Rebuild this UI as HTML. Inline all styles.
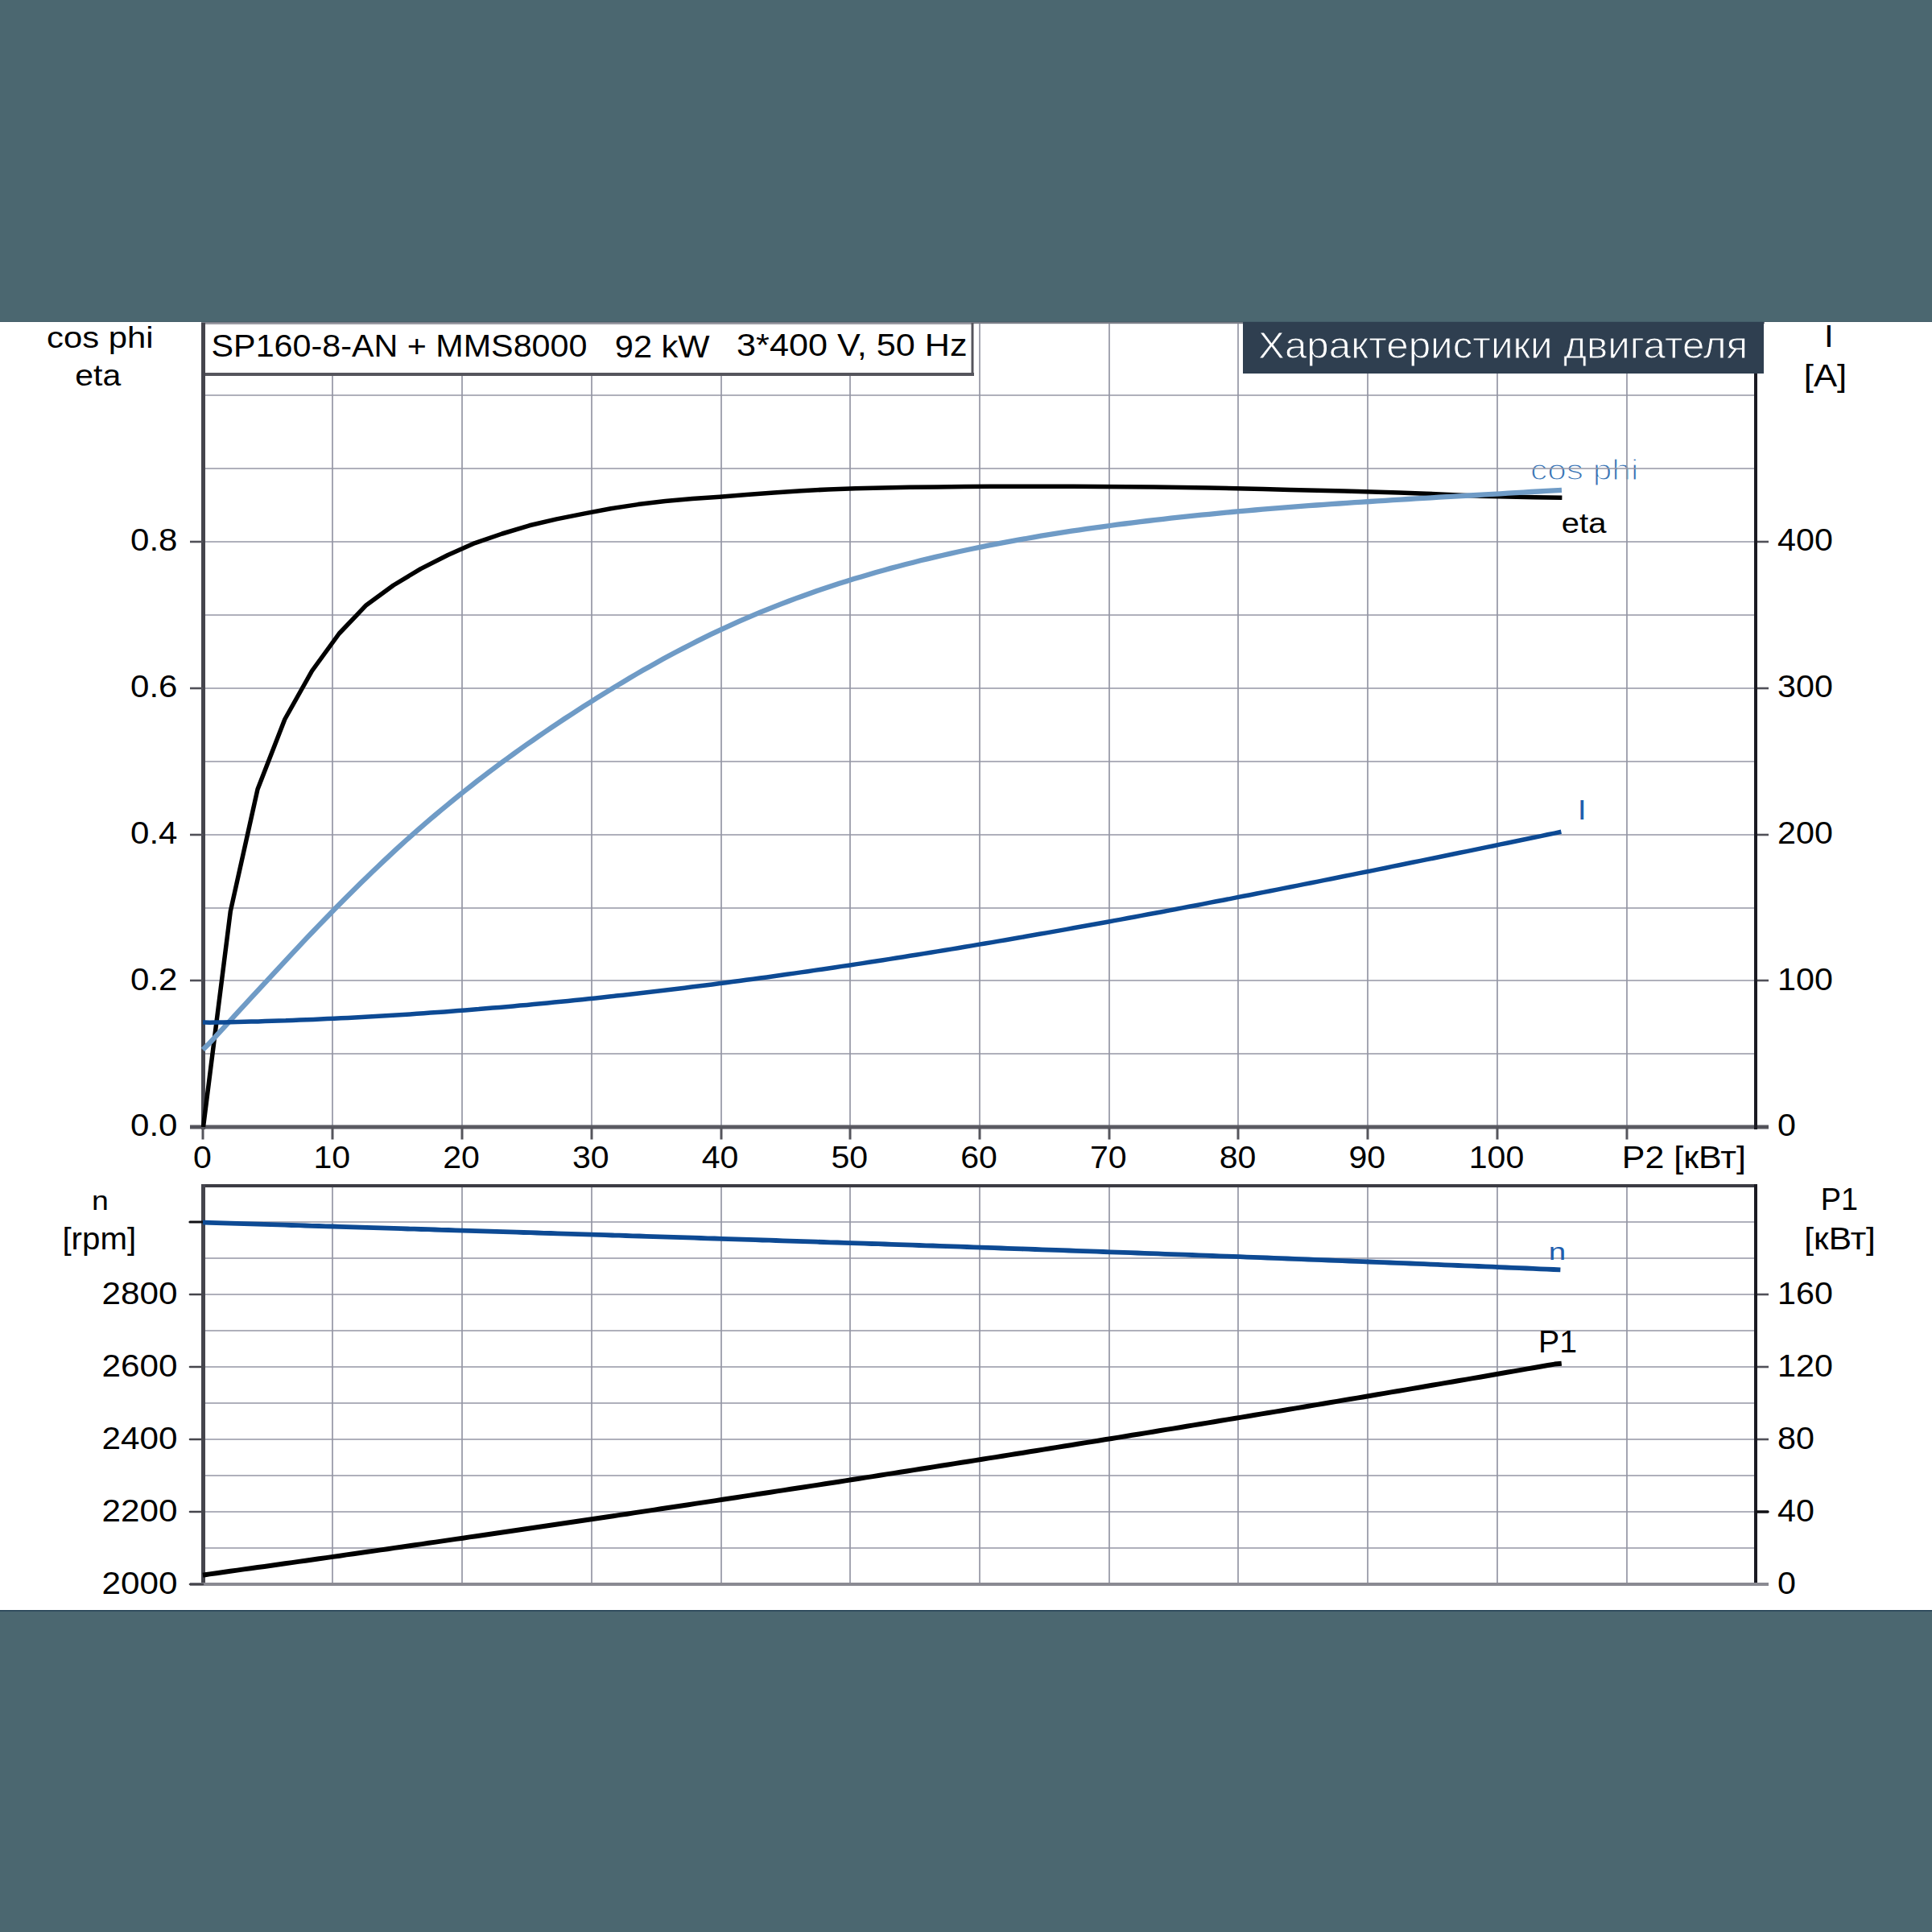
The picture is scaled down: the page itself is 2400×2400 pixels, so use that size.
<!DOCTYPE html>
<html><head><meta charset="utf-8"><style>
html,body{margin:0;padding:0;background:#fff;width:2400px;height:2400px;overflow:hidden}
svg{display:block}
</style></head><body>
<svg width="2400" height="2400" viewBox="0 0 2400 2400">
<rect x="0" y="0" width="2400" height="400" fill="#4b6770"/>
<rect x="0" y="399" width="2400" height="1" fill="#455f69"/>
<rect x="250" y="400" width="1942" height="2.2" fill="#787c86"/>
<rect x="0" y="2000" width="2400" height="400" fill="#4b6770"/>
<rect x="0" y="2000.3" width="2400" height="1.2" fill="#1c3a50"/>
<text x="1900.99" y="595.9" font-size="36" text-anchor="start" fill="#3772b4" style='font-family:"Liberation Sans",sans-serif;' transform="translate(1900.99,595.9) scale(1.178,1) translate(-1900.99,-595.9)" stroke="#ffffff" stroke-width="1.2">cos phi</text>
<line x1="413" y1="402" x2="413" y2="1400" stroke="#9496a4" stroke-width="1.7"/>
<line x1="574" y1="402" x2="574" y2="1400" stroke="#9496a4" stroke-width="1.7"/>
<line x1="735" y1="402" x2="735" y2="1400" stroke="#9496a4" stroke-width="1.7"/>
<line x1="896" y1="402" x2="896" y2="1400" stroke="#9496a4" stroke-width="1.7"/>
<line x1="1056" y1="402" x2="1056" y2="1400" stroke="#9496a4" stroke-width="1.7"/>
<line x1="1217" y1="402" x2="1217" y2="1400" stroke="#9496a4" stroke-width="1.7"/>
<line x1="1378" y1="402" x2="1378" y2="1400" stroke="#9496a4" stroke-width="1.7"/>
<line x1="1538" y1="402" x2="1538" y2="1400" stroke="#9496a4" stroke-width="1.7"/>
<line x1="1699" y1="402" x2="1699" y2="1400" stroke="#9496a4" stroke-width="1.7"/>
<line x1="1860" y1="402" x2="1860" y2="1400" stroke="#9496a4" stroke-width="1.7"/>
<line x1="2021" y1="402" x2="2021" y2="1400" stroke="#9496a4" stroke-width="1.7"/>
<line x1="252" y1="1309" x2="2181" y2="1309" stroke="#9496a4" stroke-width="1.7"/>
<line x1="252" y1="1218" x2="2181" y2="1218" stroke="#9496a4" stroke-width="1.7"/>
<line x1="252" y1="1128" x2="2181" y2="1128" stroke="#9496a4" stroke-width="1.7"/>
<line x1="252" y1="1037" x2="2181" y2="1037" stroke="#9496a4" stroke-width="1.7"/>
<line x1="252" y1="946" x2="2181" y2="946" stroke="#9496a4" stroke-width="1.7"/>
<line x1="252" y1="855" x2="2181" y2="855" stroke="#9496a4" stroke-width="1.7"/>
<line x1="252" y1="764" x2="2181" y2="764" stroke="#9496a4" stroke-width="1.7"/>
<line x1="252" y1="673" x2="2181" y2="673" stroke="#9496a4" stroke-width="1.7"/>
<line x1="252" y1="582" x2="2181" y2="582" stroke="#9496a4" stroke-width="1.7"/>
<line x1="252" y1="491" x2="2181" y2="491" stroke="#9496a4" stroke-width="1.7"/>
<line x1="413" y1="1473" x2="413" y2="1968" stroke="#9496a4" stroke-width="1.7"/>
<line x1="574" y1="1473" x2="574" y2="1968" stroke="#9496a4" stroke-width="1.7"/>
<line x1="735" y1="1473" x2="735" y2="1968" stroke="#9496a4" stroke-width="1.7"/>
<line x1="896" y1="1473" x2="896" y2="1968" stroke="#9496a4" stroke-width="1.7"/>
<line x1="1056" y1="1473" x2="1056" y2="1968" stroke="#9496a4" stroke-width="1.7"/>
<line x1="1217" y1="1473" x2="1217" y2="1968" stroke="#9496a4" stroke-width="1.7"/>
<line x1="1378" y1="1473" x2="1378" y2="1968" stroke="#9496a4" stroke-width="1.7"/>
<line x1="1538" y1="1473" x2="1538" y2="1968" stroke="#9496a4" stroke-width="1.7"/>
<line x1="1699" y1="1473" x2="1699" y2="1968" stroke="#9496a4" stroke-width="1.7"/>
<line x1="1860" y1="1473" x2="1860" y2="1968" stroke="#9496a4" stroke-width="1.7"/>
<line x1="2021" y1="1473" x2="2021" y2="1968" stroke="#9496a4" stroke-width="1.7"/>
<line x1="252" y1="1923" x2="2181" y2="1923" stroke="#9496a4" stroke-width="1.7"/>
<line x1="252" y1="1878" x2="2181" y2="1878" stroke="#9496a4" stroke-width="1.7"/>
<line x1="252" y1="1833" x2="2181" y2="1833" stroke="#9496a4" stroke-width="1.7"/>
<line x1="252" y1="1788" x2="2181" y2="1788" stroke="#9496a4" stroke-width="1.7"/>
<line x1="252" y1="1743" x2="2181" y2="1743" stroke="#9496a4" stroke-width="1.7"/>
<line x1="252" y1="1698" x2="2181" y2="1698" stroke="#9496a4" stroke-width="1.7"/>
<line x1="252" y1="1653" x2="2181" y2="1653" stroke="#9496a4" stroke-width="1.7"/>
<line x1="252" y1="1608" x2="2181" y2="1608" stroke="#9496a4" stroke-width="1.7"/>
<line x1="252" y1="1563" x2="2181" y2="1563" stroke="#9496a4" stroke-width="1.7"/>
<line x1="252" y1="1518" x2="2181" y2="1518" stroke="#9496a4" stroke-width="1.7"/>
<rect x="252" y="401" width="956" height="64" fill="#fff"/>
<line x1="252" y1="402" x2="1208" y2="402" stroke="#9a9aa2" stroke-width="2"/>
<line x1="252" y1="465" x2="1210" y2="465" stroke="#55555c" stroke-width="4"/>
<line x1="1208" y1="401" x2="1208" y2="467" stroke="#55555c" stroke-width="3"/>
<rect x="1544" y="400" width="647" height="64" fill="#2f3f50"/>
<line x1="252.5" y1="401" x2="252.5" y2="1403" stroke="#45454d" stroke-width="5"/>
<line x1="236" y1="1400" x2="2197" y2="1400" stroke="#5a5a62" stroke-width="5"/>
<line x1="2181" y1="464" x2="2181" y2="1403" stroke="#1a1a22" stroke-width="4"/>
<line x1="236" y1="1400" x2="252" y2="1400" stroke="#505058" stroke-width="2.6"/>
<line x1="2183" y1="1400" x2="2197" y2="1400" stroke="#505058" stroke-width="2.6"/>
<line x1="236" y1="1218" x2="252" y2="1218" stroke="#505058" stroke-width="2.6"/>
<line x1="2183" y1="1218" x2="2197" y2="1218" stroke="#505058" stroke-width="2.6"/>
<line x1="236" y1="1037" x2="252" y2="1037" stroke="#505058" stroke-width="2.6"/>
<line x1="2183" y1="1037" x2="2197" y2="1037" stroke="#505058" stroke-width="2.6"/>
<line x1="236" y1="855" x2="252" y2="855" stroke="#505058" stroke-width="2.6"/>
<line x1="2183" y1="855" x2="2197" y2="855" stroke="#505058" stroke-width="2.6"/>
<line x1="236" y1="673" x2="252" y2="673" stroke="#505058" stroke-width="2.6"/>
<line x1="2183" y1="673" x2="2197" y2="673" stroke="#505058" stroke-width="2.6"/>
<line x1="252" y1="1400" x2="252" y2="1415.5" stroke="#55555c" stroke-width="3"/>
<line x1="413" y1="1400" x2="413" y2="1415.5" stroke="#55555c" stroke-width="3"/>
<line x1="574" y1="1400" x2="574" y2="1415.5" stroke="#55555c" stroke-width="3"/>
<line x1="735" y1="1400" x2="735" y2="1415.5" stroke="#55555c" stroke-width="3"/>
<line x1="896" y1="1400" x2="896" y2="1415.5" stroke="#55555c" stroke-width="3"/>
<line x1="1056" y1="1400" x2="1056" y2="1415.5" stroke="#55555c" stroke-width="3"/>
<line x1="1217" y1="1400" x2="1217" y2="1415.5" stroke="#55555c" stroke-width="3"/>
<line x1="1378" y1="1400" x2="1378" y2="1415.5" stroke="#55555c" stroke-width="3"/>
<line x1="1538" y1="1400" x2="1538" y2="1415.5" stroke="#55555c" stroke-width="3"/>
<line x1="1699" y1="1400" x2="1699" y2="1415.5" stroke="#55555c" stroke-width="3"/>
<line x1="1860" y1="1400" x2="1860" y2="1415.5" stroke="#55555c" stroke-width="3"/>
<line x1="2021" y1="1400" x2="2021" y2="1415.5" stroke="#55555c" stroke-width="3"/>
<line x1="250" y1="1473" x2="2183" y2="1473" stroke="#3c3c44" stroke-width="4"/>
<line x1="252.5" y1="1471" x2="252.5" y2="1970" stroke="#45454d" stroke-width="5"/>
<line x1="2181" y1="1471" x2="2181" y2="1970" stroke="#1a1a22" stroke-width="4"/>
<line x1="236" y1="1968" x2="2197" y2="1968" stroke="#8a8a92" stroke-width="4"/>
<line x1="236" y1="1968" x2="252" y2="1968" stroke="#45454c" stroke-width="2.6" stroke-linecap="round"/>
<line x1="236" y1="1878" x2="252" y2="1878" stroke="#45454c" stroke-width="2.6" stroke-linecap="round"/>
<line x1="2183" y1="1878" x2="2196" y2="1878" stroke="#101014" stroke-width="3.5" stroke-linecap="round"/>
<line x1="236" y1="1788" x2="252" y2="1788" stroke="#45454c" stroke-width="2.6" stroke-linecap="round"/>
<line x1="2183" y1="1788" x2="2197" y2="1788" stroke="#505058" stroke-width="2.6"/>
<line x1="236" y1="1698" x2="252" y2="1698" stroke="#45454c" stroke-width="2.6" stroke-linecap="round"/>
<line x1="2183" y1="1698" x2="2197" y2="1698" stroke="#505058" stroke-width="2.6"/>
<line x1="236" y1="1608" x2="252" y2="1608" stroke="#45454c" stroke-width="2.6" stroke-linecap="round"/>
<line x1="2183" y1="1608" x2="2197" y2="1608" stroke="#505058" stroke-width="2.6"/>
<line x1="236" y1="1518" x2="252" y2="1518" stroke="#101014" stroke-width="3.2" stroke-linecap="round"/>
<path d="M252.5,1400.0 L286.3,1132.0 L320.0,980.5 L353.8,893.5 L387.5,833.5 L421.3,787.0 L455.0,751.7 L488.8,727.0 L522.6,706.6 L556.3,689.5 L590.0,674.6 L623.8,663.0 L657.6,652.8 L691.3,644.9 L725.1,638.1 L758.9,631.8 L792.6,626.6 L826.4,622.5 L860.1,619.6 L893.9,617.3 L927.6,614.6 L961.4,611.9 L995.2,609.8 L1028.9,607.9 L1062.7,606.7 L1096.4,605.9 L1130.2,605.3 L1164.0,604.9 L1197.7,604.5 L1231.5,604.3 L1265.2,604.2 L1299.0,604.2 L1332.7,604.3 L1366.5,604.5 L1400.3,604.8 L1434.0,605.1 L1467.8,605.5 L1501.5,606.0 L1535.3,606.7 L1569.0,607.5 L1602.8,608.4 L1636.6,609.3 L1670.3,610.1 L1704.1,611.0 L1737.8,611.9 L1771.6,613.2 L1805.3,614.8 L1839.1,616.2 L1872.9,617.1 L1906.6,617.8 L1940.4,618.2" fill="none" stroke="#000000" stroke-width="5.5" stroke-linejoin="round"/>
<path d="M252.0,1303.0 L258.8,1296.3 L265.3,1289.3 L271.7,1282.3 L278.2,1275.3 L284.6,1268.3 L291.1,1261.2 L297.5,1254.2 L304.0,1247.2 L310.4,1240.2 L316.9,1233.1 L323.4,1226.1 L329.9,1219.1 L336.4,1212.1 L342.9,1205.1 L349.4,1198.1 L355.9,1191.1 L362.4,1184.1 L369.0,1177.1 L375.5,1170.2 L382.1,1163.2 L388.7,1156.3 L395.3,1149.4 L402.0,1142.5 L408.6,1135.7 L415.3,1128.8 L422.0,1122.0 L428.7,1115.2 L435.5,1108.5 L442.3,1101.7 L449.1,1095.0 L455.9,1088.4 L462.8,1081.8 L469.7,1075.2 L476.6,1068.6 L483.6,1062.1 L490.5,1055.6 L497.6,1049.2 L504.6,1042.8 L511.8,1036.4 L518.9,1030.1 L526.1,1023.9 L533.3,1017.7 L540.6,1011.5 L547.9,1005.4 L555.2,999.3 L562.6,993.3 L570.0,987.3 L577.4,981.4 L584.9,975.5 L592.4,969.6 L600.0,963.8 L607.5,958.1 L615.2,952.3 L622.8,946.6 L630.5,941.0 L638.2,935.4 L646.0,929.8 L653.7,924.3 L661.6,918.8 L669.4,913.4 L677.3,908.0 L685.2,902.6 L693.1,897.3 L701.1,892.0 L709.1,886.8 L717.1,881.6 L725.1,876.4 L733.2,871.3 L741.3,866.2 L749.4,861.1 L757.6,856.1 L765.8,851.1 L774.0,846.2 L782.2,841.3 L790.5,836.4 L798.8,831.6 L807.1,826.9 L815.5,822.2 L823.8,817.6 L832.2,813.0 L840.7,808.5 L849.2,804.1 L857.7,799.7 L866.2,795.4 L874.7,791.1 L883.3,786.9 L891.9,782.8 L900.6,778.8 L909.3,774.8 L918.0,770.9 L926.7,767.1 L935.5,763.4 L944.3,759.7 L953.1,756.1 L961.9,752.6 L970.8,749.1 L979.7,745.7 L988.6,742.4 L997.5,739.2 L1006.5,736.0 L1015.5,732.8 L1024.5,729.8 L1033.6,726.8 L1042.6,723.8 L1051.7,721.0 L1060.8,718.1 L1069.9,715.4 L1079.1,712.7 L1088.2,710.0 L1097.4,707.5 L1106.6,704.9 L1115.8,702.5 L1125.0,700.0 L1134.3,697.7 L1143.5,695.3 L1152.8,693.1 L1162.1,690.9 L1171.4,688.7 L1180.7,686.6 L1190.1,684.5 L1199.4,682.5 L1208.8,680.5 L1218.1,678.6 L1227.5,676.7 L1236.9,674.9 L1246.3,673.1 L1255.7,671.3 L1265.1,669.6 L1274.6,668.0 L1284.0,666.3 L1293.4,664.7 L1302.9,663.2 L1312.3,661.7 L1321.8,660.2 L1331.2,658.7 L1340.7,657.3 L1350.2,655.9 L1359.6,654.6 L1369.1,653.3 L1378.6,652.0 L1388.1,650.7 L1397.6,649.5 L1407.0,648.3 L1416.5,647.1 L1426.0,646.0 L1435.5,644.9 L1445.0,643.8 L1454.5,642.7 L1464.0,641.7 L1473.4,640.7 L1482.9,639.7 L1492.4,638.7 L1501.9,637.8 L1511.4,636.8 L1520.9,635.9 L1530.4,635.0 L1539.9,634.2 L1549.4,633.3 L1558.9,632.5 L1568.4,631.7 L1577.9,630.9 L1587.5,630.2 L1597.0,629.4 L1606.5,628.7 L1616.0,627.9 L1625.5,627.2 L1635.0,626.5 L1644.5,625.8 L1654.0,625.2 L1663.6,624.5 L1673.1,623.9 L1682.6,623.2 L1692.1,622.6 L1701.6,622.0 L1711.2,621.4 L1720.7,620.8 L1730.2,620.2 L1739.7,619.6 L1749.3,619.0 L1758.8,618.4 L1768.3,617.9 L1777.9,617.3 L1787.4,616.7 L1796.9,616.2 L1806.5,615.6 L1816.0,615.1 L1825.5,614.5 L1835.1,614.0 L1844.6,613.4 L1854.1,612.8 L1863.7,612.3 L1873.2,611.7 L1882.8,611.2 L1892.3,610.6 L1901.9,610.0 L1911.4,609.5 L1920.9,608.9 L1930.5,608.3 L1940.0,607.8" fill="none" stroke="#6f9bc6" stroke-width="6.3" stroke-linejoin="round" transform="translate(0,1)"/>
<path d="M252.0,1270.0 L260.5,1270.2 L269.1,1270.0 L277.7,1269.9 L286.3,1269.7 L294.9,1269.5 L303.5,1269.3 L312.0,1269.1 L320.6,1268.9 L329.2,1268.6 L337.8,1268.3 L346.4,1268.0 L355.0,1267.8 L363.5,1267.4 L372.1,1267.1 L380.7,1266.8 L389.3,1266.4 L397.8,1266.0 L406.4,1265.6 L415.0,1265.2 L423.6,1264.8 L432.1,1264.4 L440.7,1264.0 L449.3,1263.5 L457.8,1263.0 L466.4,1262.5 L474.9,1262.0 L483.5,1261.5 L492.1,1261.0 L500.6,1260.4 L509.2,1259.9 L517.7,1259.3 L526.3,1258.7 L534.8,1258.1 L543.4,1257.5 L551.9,1256.9 L560.5,1256.2 L569.0,1255.6 L577.6,1254.9 L586.1,1254.2 L594.7,1253.6 L603.2,1252.8 L611.8,1252.1 L620.3,1251.4 L628.8,1250.7 L637.4,1249.9 L645.9,1249.1 L654.5,1248.4 L663.0,1247.6 L671.5,1246.8 L680.1,1245.9 L688.6,1245.1 L697.1,1244.3 L705.6,1243.4 L714.2,1242.6 L722.7,1241.7 L731.2,1240.8 L739.7,1239.9 L748.3,1239.0 L756.8,1238.1 L765.3,1237.1 L773.8,1236.2 L782.3,1235.2 L790.9,1234.3 L799.4,1233.3 L807.9,1232.3 L816.4,1231.3 L824.9,1230.3 L833.4,1229.2 L841.9,1228.2 L850.4,1227.2 L858.9,1226.1 L867.5,1225.1 L876.0,1224.0 L884.5,1222.9 L893.0,1221.8 L901.5,1220.7 L910.0,1219.6 L918.5,1218.5 L927.0,1217.3 L935.5,1216.2 L944.0,1215.0 L952.5,1213.9 L960.9,1212.7 L969.4,1211.5 L977.9,1210.3 L986.4,1209.1 L994.9,1207.9 L1003.4,1206.7 L1011.9,1205.4 L1020.4,1204.2 L1028.9,1203.0 L1037.3,1201.7 L1045.8,1200.4 L1054.3,1199.2 L1062.8,1197.9 L1071.3,1196.6 L1079.7,1195.3 L1088.2,1194.0 L1096.7,1192.7 L1105.2,1191.4 L1113.6,1190.0 L1122.1,1188.7 L1130.6,1187.3 L1139.1,1186.0 L1147.5,1184.6 L1156.0,1183.2 L1164.5,1181.9 L1172.9,1180.5 L1181.4,1179.1 L1189.9,1177.7 L1198.3,1176.3 L1206.8,1174.9 L1215.2,1173.4 L1223.7,1172.0 L1232.2,1170.6 L1240.6,1169.1 L1249.1,1167.7 L1257.5,1166.2 L1266.0,1164.8 L1274.4,1163.3 L1282.9,1161.8 L1291.3,1160.3 L1299.8,1158.9 L1308.2,1157.4 L1316.7,1155.9 L1325.1,1154.4 L1333.6,1152.8 L1342.0,1151.3 L1350.5,1149.8 L1358.9,1148.3 L1367.4,1146.7 L1375.8,1145.2 L1384.2,1143.6 L1392.7,1142.1 L1401.1,1140.5 L1409.6,1139.0 L1418.0,1137.4 L1426.4,1135.8 L1434.9,1134.2 L1443.3,1132.7 L1451.7,1131.1 L1460.2,1129.5 L1468.6,1127.9 L1477.0,1126.3 L1485.5,1124.7 L1493.9,1123.1 L1502.3,1121.4 L1510.7,1119.8 L1519.2,1118.2 L1527.6,1116.6 L1536.0,1114.9 L1544.4,1113.3 L1552.9,1111.7 L1561.3,1110.0 L1569.7,1108.4 L1578.1,1106.7 L1586.5,1105.1 L1595.0,1103.4 L1603.4,1101.7 L1611.8,1100.1 L1620.2,1098.4 L1628.6,1096.7 L1637.0,1095.1 L1645.4,1093.4 L1653.8,1091.7 L1662.3,1090.0 L1670.7,1088.3 L1679.1,1086.6 L1687.5,1084.9 L1695.9,1083.3 L1704.3,1081.6 L1712.7,1079.9 L1721.1,1078.2 L1729.5,1076.4 L1737.9,1074.7 L1746.3,1073.0 L1754.7,1071.3 L1763.1,1069.6 L1771.5,1067.9 L1779.9,1066.2 L1788.3,1064.5 L1796.7,1062.7 L1805.1,1061.0 L1813.5,1059.3 L1821.9,1057.6 L1830.3,1055.9 L1838.7,1054.1 L1847.1,1052.4 L1855.4,1050.7 L1863.8,1048.9 L1872.2,1047.2 L1880.6,1045.5 L1889.0,1043.8 L1897.4,1042.0 L1905.8,1040.3 L1914.1,1038.6 L1922.5,1036.8 L1930.9,1035.1 L1939.4,1033.3" fill="none" stroke="#0d4a94" stroke-width="5.5" stroke-linejoin="round"/>
<path d="M252.0,1518.7 L260.5,1518.8 L269.0,1519.1 L277.4,1519.3 L285.9,1519.6 L294.4,1519.9 L302.9,1520.1 L311.3,1520.4 L319.8,1520.6 L328.3,1520.9 L336.8,1521.2 L345.2,1521.4 L353.7,1521.7 L362.2,1522.0 L370.7,1522.2 L379.1,1522.5 L387.6,1522.8 L396.1,1523.0 L404.6,1523.3 L413.0,1523.5 L421.5,1523.8 L430.0,1524.1 L438.5,1524.3 L446.9,1524.6 L455.4,1524.9 L463.9,1525.1 L472.4,1525.4 L480.8,1525.7 L489.3,1525.9 L497.8,1526.2 L506.3,1526.5 L514.7,1526.7 L523.2,1527.0 L531.7,1527.2 L540.2,1527.5 L548.6,1527.8 L557.1,1528.0 L565.6,1528.3 L574.1,1528.6 L582.5,1528.8 L591.0,1529.1 L599.5,1529.4 L608.0,1529.6 L616.4,1529.9 L624.9,1530.2 L633.4,1530.4 L641.9,1530.7 L650.4,1531.0 L658.8,1531.2 L667.3,1531.5 L675.8,1531.8 L684.3,1532.0 L692.7,1532.3 L701.2,1532.6 L709.7,1532.8 L718.2,1533.1 L726.6,1533.4 L735.1,1533.6 L743.6,1533.9 L752.1,1534.2 L760.5,1534.5 L769.0,1534.7 L777.5,1535.0 L786.0,1535.3 L794.4,1535.5 L802.9,1535.8 L811.4,1536.1 L819.9,1536.4 L828.3,1536.6 L836.8,1536.9 L845.3,1537.2 L853.8,1537.4 L862.2,1537.7 L870.7,1538.0 L879.2,1538.3 L887.7,1538.5 L896.1,1538.8 L904.6,1539.1 L913.1,1539.4 L921.6,1539.6 L930.0,1539.9 L938.5,1540.2 L947.0,1540.5 L955.5,1540.7 L963.9,1541.0 L972.4,1541.3 L980.9,1541.6 L989.4,1541.9 L997.8,1542.1 L1006.3,1542.4 L1014.8,1542.7 L1023.3,1543.0 L1031.7,1543.3 L1040.2,1543.5 L1048.7,1543.8 L1057.2,1544.1 L1065.6,1544.4 L1074.1,1544.7 L1082.6,1545.0 L1091.1,1545.2 L1099.5,1545.5 L1108.0,1545.8 L1116.5,1546.1 L1125.0,1546.4 L1133.4,1546.7 L1141.9,1547.0 L1150.4,1547.3 L1158.9,1547.5 L1167.3,1547.8 L1175.8,1548.1 L1184.3,1548.4 L1192.8,1548.7 L1201.2,1549.0 L1209.7,1549.3 L1218.2,1549.6 L1226.7,1549.9 L1235.1,1550.2 L1243.6,1550.5 L1252.1,1550.8 L1260.5,1551.1 L1269.0,1551.4 L1277.5,1551.7 L1286.0,1552.0 L1294.4,1552.3 L1302.9,1552.6 L1311.4,1552.9 L1319.9,1553.2 L1328.3,1553.5 L1336.8,1553.8 L1345.3,1554.1 L1353.8,1554.4 L1362.2,1554.7 L1370.7,1555.0 L1379.2,1555.3 L1387.7,1555.6 L1396.1,1555.9 L1404.6,1556.2 L1413.1,1556.5 L1421.6,1556.8 L1430.0,1557.1 L1438.5,1557.4 L1447.0,1557.8 L1455.5,1558.1 L1463.9,1558.4 L1472.4,1558.7 L1480.9,1559.0 L1489.3,1559.3 L1497.8,1559.6 L1506.3,1560.0 L1514.8,1560.3 L1523.2,1560.6 L1531.7,1560.9 L1540.2,1561.2 L1548.7,1561.6 L1557.1,1561.9 L1565.6,1562.2 L1574.1,1562.5 L1582.6,1562.9 L1591.0,1563.2 L1599.5,1563.5 L1608.0,1563.8 L1616.4,1564.2 L1624.9,1564.5 L1633.4,1564.8 L1641.9,1565.2 L1650.3,1565.5 L1658.8,1565.8 L1667.3,1566.2 L1675.8,1566.5 L1684.2,1566.8 L1692.7,1567.2 L1701.2,1567.5 L1709.7,1567.8 L1718.1,1568.2 L1726.6,1568.5 L1735.1,1568.9 L1743.5,1569.2 L1752.0,1569.5 L1760.5,1569.9 L1769.0,1570.2 L1777.4,1570.6 L1785.9,1570.9 L1794.4,1571.3 L1802.8,1571.6 L1811.3,1572.0 L1819.8,1572.3 L1828.3,1572.7 L1836.7,1573.0 L1845.2,1573.4 L1853.7,1573.7 L1862.2,1574.1 L1870.6,1574.5 L1879.1,1574.8 L1887.6,1575.2 L1896.0,1575.5 L1904.5,1575.9 L1913.0,1576.3 L1921.5,1576.6 L1929.9,1577.0 L1938.4,1577.4" fill="none" stroke="#0d4a94" stroke-width="5.8" stroke-linejoin="round"/>
<path d="M252.0,1956.7 L260.5,1955.4 L269.0,1954.2 L277.5,1953.0 L286.0,1951.8 L294.5,1950.6 L303.0,1949.4 L311.5,1948.2 L320.0,1947.0 L328.5,1945.9 L337.0,1944.7 L345.5,1943.5 L354.0,1942.3 L362.5,1941.1 L371.0,1939.9 L379.5,1938.7 L388.0,1937.5 L396.5,1936.3 L405.0,1935.1 L413.5,1933.9 L422.0,1932.7 L430.5,1931.4 L439.0,1930.2 L447.5,1929.0 L456.0,1927.8 L464.5,1926.6 L473.0,1925.4 L481.5,1924.2 L490.0,1922.9 L498.5,1921.7 L507.0,1920.5 L515.5,1919.3 L524.0,1918.1 L532.5,1916.8 L541.0,1915.6 L549.5,1914.4 L557.9,1913.1 L566.4,1911.9 L574.9,1910.7 L583.4,1909.4 L591.9,1908.2 L600.4,1907.0 L608.9,1905.7 L617.4,1904.5 L625.9,1903.3 L634.4,1902.0 L642.9,1900.8 L651.4,1899.5 L659.9,1898.3 L668.4,1897.0 L676.9,1895.8 L685.4,1894.5 L693.8,1893.3 L702.3,1892.0 L710.8,1890.8 L719.3,1889.5 L727.8,1888.3 L736.3,1887.0 L744.8,1885.7 L753.3,1884.5 L761.8,1883.2 L770.3,1881.9 L778.8,1880.7 L787.2,1879.4 L795.7,1878.1 L804.2,1876.9 L812.7,1875.6 L821.2,1874.3 L829.7,1873.0 L838.2,1871.8 L846.7,1870.5 L855.2,1869.2 L863.6,1867.9 L872.1,1866.6 L880.6,1865.4 L889.1,1864.1 L897.6,1862.8 L906.1,1861.5 L914.6,1860.2 L923.1,1858.9 L931.5,1857.6 L940.0,1856.3 L948.5,1855.0 L957.0,1853.7 L965.5,1852.4 L974.0,1851.1 L982.5,1849.8 L990.9,1848.5 L999.4,1847.2 L1007.9,1845.9 L1016.4,1844.6 L1024.9,1843.3 L1033.4,1842.0 L1041.8,1840.7 L1050.3,1839.4 L1058.8,1838.0 L1067.3,1836.7 L1075.8,1835.4 L1084.3,1834.1 L1092.7,1832.8 L1101.2,1831.4 L1109.7,1830.1 L1118.2,1828.8 L1126.7,1827.5 L1135.1,1826.1 L1143.6,1824.8 L1152.1,1823.5 L1160.6,1822.1 L1169.1,1820.8 L1177.5,1819.5 L1186.0,1818.1 L1194.5,1816.8 L1203.0,1815.5 L1211.5,1814.1 L1219.9,1812.8 L1228.4,1811.4 L1236.9,1810.1 L1245.4,1808.7 L1253.8,1807.4 L1262.3,1806.0 L1270.8,1804.7 L1279.3,1803.3 L1287.8,1802.0 L1296.2,1800.6 L1304.7,1799.3 L1313.2,1797.9 L1321.7,1796.5 L1330.1,1795.2 L1338.6,1793.8 L1347.1,1792.4 L1355.6,1791.1 L1364.0,1789.7 L1372.5,1788.3 L1381.0,1787.0 L1389.4,1785.6 L1397.9,1784.2 L1406.4,1782.8 L1414.9,1781.5 L1423.3,1780.1 L1431.8,1778.7 L1440.3,1777.3 L1448.8,1775.9 L1457.2,1774.6 L1465.7,1773.2 L1474.2,1771.8 L1482.6,1770.4 L1491.1,1769.0 L1499.6,1767.6 L1508.1,1766.2 L1516.5,1764.8 L1525.0,1763.4 L1533.5,1762.0 L1541.9,1760.6 L1550.4,1759.2 L1558.9,1757.8 L1567.3,1756.4 L1575.8,1755.0 L1584.3,1753.6 L1592.7,1752.2 L1601.2,1750.8 L1609.7,1749.4 L1618.1,1748.0 L1626.6,1746.5 L1635.1,1745.1 L1643.5,1743.7 L1652.0,1742.3 L1660.5,1740.9 L1668.9,1739.4 L1677.4,1738.0 L1685.9,1736.6 L1694.3,1735.2 L1702.8,1733.7 L1711.3,1732.3 L1719.7,1730.9 L1728.2,1729.4 L1736.7,1728.0 L1745.1,1726.6 L1753.6,1725.1 L1762.0,1723.7 L1770.5,1722.2 L1779.0,1720.8 L1787.4,1719.4 L1795.9,1717.9 L1804.4,1716.5 L1812.8,1715.0 L1821.3,1713.6 L1829.7,1712.1 L1838.2,1710.7 L1846.7,1709.2 L1855.1,1707.7 L1863.6,1706.3 L1872.0,1704.8 L1880.5,1703.4 L1889.0,1701.9 L1897.4,1700.4 L1905.9,1699.0 L1914.3,1697.5 L1922.8,1696.0 L1931.2,1694.6 L1939.8,1693.7" fill="none" stroke="#000000" stroke-width="6" stroke-linejoin="round"/>
<text x="220.5" y="1411.5" font-size="38.4" text-anchor="end" fill="#000" style='font-family:"Liberation Sans",sans-serif;' transform="translate(220.5,1411.5) scale(1.095,1) translate(-220.5,-1411.5)" >0.0</text>
<text x="220.5" y="1229.7" font-size="38.4" text-anchor="end" fill="#000" style='font-family:"Liberation Sans",sans-serif;' transform="translate(220.5,1229.7) scale(1.095,1) translate(-220.5,-1229.7)" >0.2</text>
<text x="220.5" y="1047.9" font-size="38.4" text-anchor="end" fill="#000" style='font-family:"Liberation Sans",sans-serif;' transform="translate(220.5,1047.9) scale(1.095,1) translate(-220.5,-1047.9)" >0.4</text>
<text x="220.5" y="866.0999999999999" font-size="38.4" text-anchor="end" fill="#000" style='font-family:"Liberation Sans",sans-serif;' transform="translate(220.5,866.0999999999999) scale(1.095,1) translate(-220.5,-866.0999999999999)" >0.6</text>
<text x="220.5" y="684.3" font-size="38.4" text-anchor="end" fill="#000" style='font-family:"Liberation Sans",sans-serif;' transform="translate(220.5,684.3) scale(1.095,1) translate(-220.5,-684.3)" >0.8</text>
<text x="2208" y="1411.5" font-size="38.4" text-anchor="start" fill="#000" style='font-family:"Liberation Sans",sans-serif;' transform="translate(2208,1411.5) scale(1.075,1) translate(-2208,-1411.5)" >0</text>
<text x="2208" y="1229.7" font-size="38.4" text-anchor="start" fill="#000" style='font-family:"Liberation Sans",sans-serif;' transform="translate(2208,1229.7) scale(1.075,1) translate(-2208,-1229.7)" >100</text>
<text x="2208" y="1047.9" font-size="38.4" text-anchor="start" fill="#000" style='font-family:"Liberation Sans",sans-serif;' transform="translate(2208,1047.9) scale(1.075,1) translate(-2208,-1047.9)" >200</text>
<text x="2208" y="866.0999999999999" font-size="38.4" text-anchor="start" fill="#000" style='font-family:"Liberation Sans",sans-serif;' transform="translate(2208,866.0999999999999) scale(1.075,1) translate(-2208,-866.0999999999999)" >300</text>
<text x="2208" y="684.3" font-size="38.4" text-anchor="start" fill="#000" style='font-family:"Liberation Sans",sans-serif;' transform="translate(2208,684.3) scale(1.075,1) translate(-2208,-684.3)" >400</text>
<text x="251.5" y="1451.5" font-size="38.4" text-anchor="middle" fill="#000" style='font-family:"Liberation Sans",sans-serif;' transform="translate(251.5,1451.5) scale(1.07,1) translate(-251.5,-1451.5)" >0</text>
<text x="412.25" y="1451.5" font-size="38.4" text-anchor="middle" fill="#000" style='font-family:"Liberation Sans",sans-serif;' transform="translate(412.25,1451.5) scale(1.07,1) translate(-412.25,-1451.5)" >10</text>
<text x="573.0" y="1451.5" font-size="38.4" text-anchor="middle" fill="#000" style='font-family:"Liberation Sans",sans-serif;' transform="translate(573.0,1451.5) scale(1.07,1) translate(-573.0,-1451.5)" >20</text>
<text x="733.75" y="1451.5" font-size="38.4" text-anchor="middle" fill="#000" style='font-family:"Liberation Sans",sans-serif;' transform="translate(733.75,1451.5) scale(1.07,1) translate(-733.75,-1451.5)" >30</text>
<text x="894.5" y="1451.5" font-size="38.4" text-anchor="middle" fill="#000" style='font-family:"Liberation Sans",sans-serif;' transform="translate(894.5,1451.5) scale(1.07,1) translate(-894.5,-1451.5)" >40</text>
<text x="1055.25" y="1451.5" font-size="38.4" text-anchor="middle" fill="#000" style='font-family:"Liberation Sans",sans-serif;' transform="translate(1055.25,1451.5) scale(1.07,1) translate(-1055.25,-1451.5)" >50</text>
<text x="1216.0" y="1451.5" font-size="38.4" text-anchor="middle" fill="#000" style='font-family:"Liberation Sans",sans-serif;' transform="translate(1216.0,1451.5) scale(1.07,1) translate(-1216.0,-1451.5)" >60</text>
<text x="1376.75" y="1451.5" font-size="38.4" text-anchor="middle" fill="#000" style='font-family:"Liberation Sans",sans-serif;' transform="translate(1376.75,1451.5) scale(1.07,1) translate(-1376.75,-1451.5)" >70</text>
<text x="1537.5" y="1451.5" font-size="38.4" text-anchor="middle" fill="#000" style='font-family:"Liberation Sans",sans-serif;' transform="translate(1537.5,1451.5) scale(1.07,1) translate(-1537.5,-1451.5)" >80</text>
<text x="1698.25" y="1451.5" font-size="38.4" text-anchor="middle" fill="#000" style='font-family:"Liberation Sans",sans-serif;' transform="translate(1698.25,1451.5) scale(1.07,1) translate(-1698.25,-1451.5)" >90</text>
<text x="1859.0" y="1451.5" font-size="38.4" text-anchor="middle" fill="#000" style='font-family:"Liberation Sans",sans-serif;' transform="translate(1859.0,1451.5) scale(1.07,1) translate(-1859.0,-1451.5)" >100</text>
<text x="220.5" y="1980.0" font-size="38.4" text-anchor="end" fill="#000" style='font-family:"Liberation Sans",sans-serif;' transform="translate(220.5,1980.0) scale(1.1,1) translate(-220.5,-1980.0)" >2000</text>
<text x="220.5" y="1890.0" font-size="38.4" text-anchor="end" fill="#000" style='font-family:"Liberation Sans",sans-serif;' transform="translate(220.5,1890.0) scale(1.1,1) translate(-220.5,-1890.0)" >2200</text>
<text x="220.5" y="1800.0" font-size="38.4" text-anchor="end" fill="#000" style='font-family:"Liberation Sans",sans-serif;' transform="translate(220.5,1800.0) scale(1.1,1) translate(-220.5,-1800.0)" >2400</text>
<text x="220.5" y="1710.0" font-size="38.4" text-anchor="end" fill="#000" style='font-family:"Liberation Sans",sans-serif;' transform="translate(220.5,1710.0) scale(1.1,1) translate(-220.5,-1710.0)" >2600</text>
<text x="220.5" y="1620.0" font-size="38.4" text-anchor="end" fill="#000" style='font-family:"Liberation Sans",sans-serif;' transform="translate(220.5,1620.0) scale(1.1,1) translate(-220.5,-1620.0)" >2800</text>
<text x="2208" y="1980.0" font-size="38.4" text-anchor="start" fill="#000" style='font-family:"Liberation Sans",sans-serif;' transform="translate(2208,1980.0) scale(1.075,1) translate(-2208,-1980.0)" >0</text>
<text x="2208" y="1890.0" font-size="38.4" text-anchor="start" fill="#000" style='font-family:"Liberation Sans",sans-serif;' transform="translate(2208,1890.0) scale(1.075,1) translate(-2208,-1890.0)" >40</text>
<text x="2208" y="1800.0" font-size="38.4" text-anchor="start" fill="#000" style='font-family:"Liberation Sans",sans-serif;' transform="translate(2208,1800.0) scale(1.075,1) translate(-2208,-1800.0)" >80</text>
<text x="2208" y="1710.0" font-size="38.4" text-anchor="start" fill="#000" style='font-family:"Liberation Sans",sans-serif;' transform="translate(2208,1710.0) scale(1.075,1) translate(-2208,-1710.0)" >120</text>
<text x="2208" y="1620.0" font-size="38.4" text-anchor="start" fill="#000" style='font-family:"Liberation Sans",sans-serif;' transform="translate(2208,1620.0) scale(1.075,1) translate(-2208,-1620.0)" >160</text>
<text x="2014.86" y="1451.4" font-size="38.4" text-anchor="start" fill="#000" style='font-family:"Liberation Sans",sans-serif;' transform="translate(2014.86,1451.4) scale(1.1186,1) translate(-2014.86,-1451.4)" >P2 [кВт]</text>
<text x="113.88" y="1503.2" font-size="33" text-anchor="start" fill="#000" style='font-family:"Liberation Sans",sans-serif;' transform="translate(113.88,1503.2) scale(1.1369,1) translate(-113.88,-1503.2)" >n</text>
<text x="77.45" y="1552.0" font-size="38.4" text-anchor="start" fill="#000" style='font-family:"Liberation Sans",sans-serif;' transform="translate(77.45,1552.0) scale(1.0483,1) translate(-77.45,-1552.0)" >[rpm]</text>
<text x="2261.81" y="1503.4" font-size="38.4" text-anchor="start" fill="#000" style='font-family:"Liberation Sans",sans-serif;' transform="translate(2261.81,1503.4) scale(0.9871,1) translate(-2261.81,-1503.4)" >P1</text>
<text x="2241.29" y="1552.4" font-size="38.4" text-anchor="start" fill="#000" style='font-family:"Liberation Sans",sans-serif;' transform="translate(2241.29,1552.4) scale(1.1076,1) translate(-2241.29,-1552.4)" >[кВт]</text>
<text x="58.08" y="431.9" font-size="37" text-anchor="start" fill="#000" style='font-family:"Liberation Sans",sans-serif;' transform="translate(58.08,431.9) scale(1.1302,1) translate(-58.08,-431.9)" >cos phi</text>
<text x="93.31" y="478.7" font-size="37" text-anchor="start" fill="#000" style='font-family:"Liberation Sans",sans-serif;' transform="translate(93.31,478.7) scale(1.1069,1) translate(-93.31,-478.7)" >eta</text>
<text x="2266.11" y="431.25" font-size="38.4" text-anchor="start" fill="#000" style='font-family:"Liberation Sans",sans-serif;' transform="translate(2266.11,431.25) scale(1.1,1) translate(-2266.11,-431.25)" >I</text>
<text x="2240.81" y="479.95" font-size="38.4" text-anchor="start" fill="#000" style='font-family:"Liberation Sans",sans-serif;' transform="translate(2240.81,479.95) scale(1.1385,1) translate(-2240.81,-479.95)" >[A]</text>
<text x="262.59" y="443.2" font-size="38.4" text-anchor="start" fill="#000" style='font-family:"Liberation Sans",sans-serif;' transform="translate(262.59,443.2) scale(1.0751,1) translate(-262.59,-443.2)" >SP160-8-AN + MMS8000</text>
<text x="763.77" y="444.5" font-size="38.4" text-anchor="start" fill="#000" style='font-family:"Liberation Sans",sans-serif;' transform="translate(763.77,444.5) scale(1.0833,1) translate(-763.77,-444.5)" >92 kW</text>
<text x="915.09" y="442.5" font-size="38.4" text-anchor="start" fill="#000" style='font-family:"Liberation Sans",sans-serif;' transform="translate(915.09,442.5) scale(1.1249,1) translate(-915.09,-442.5)" >3*400 V, 50 Hz</text>
<text x="1563.02" y="445.5" font-size="47" text-anchor="start" fill="#ffffff" style='font-family:"Liberation Sans",sans-serif;' transform="translate(1563.02,445.5) scale(1.0491,1) translate(-1563.02,-445.5)" stroke="#2f3f50" stroke-width="1.0">Характеристики двигателя</text>
<text x="1939.87" y="662.2" font-size="36" text-anchor="start" fill="#000" style='font-family:"Liberation Sans",sans-serif;' transform="translate(1939.87,662.2) scale(1.1123,1) translate(-1939.87,-662.2)" >eta</text>
<text x="1959.75" y="1018.4" font-size="36" text-anchor="start" fill="#1f5fae" style='font-family:"Liberation Sans",sans-serif;' transform="translate(1959.75,1018.4) scale(1.1,1) translate(-1959.75,-1018.4)" >I</text>
<text x="1923.76" y="1565.5" font-size="30" text-anchor="start" fill="#1f5fae" style='font-family:"Liberation Sans",sans-serif;' transform="translate(1923.76,1565.5) scale(1.2866,1) translate(-1923.76,-1565.5)" >n</text>
<text x="1911.13" y="1680.25" font-size="38.4" text-anchor="start" fill="#000" style='font-family:"Liberation Sans",sans-serif;' transform="translate(1911.13,1680.25) scale(1.0239,1) translate(-1911.13,-1680.25)" >P1</text>
</svg>
</body></html>
